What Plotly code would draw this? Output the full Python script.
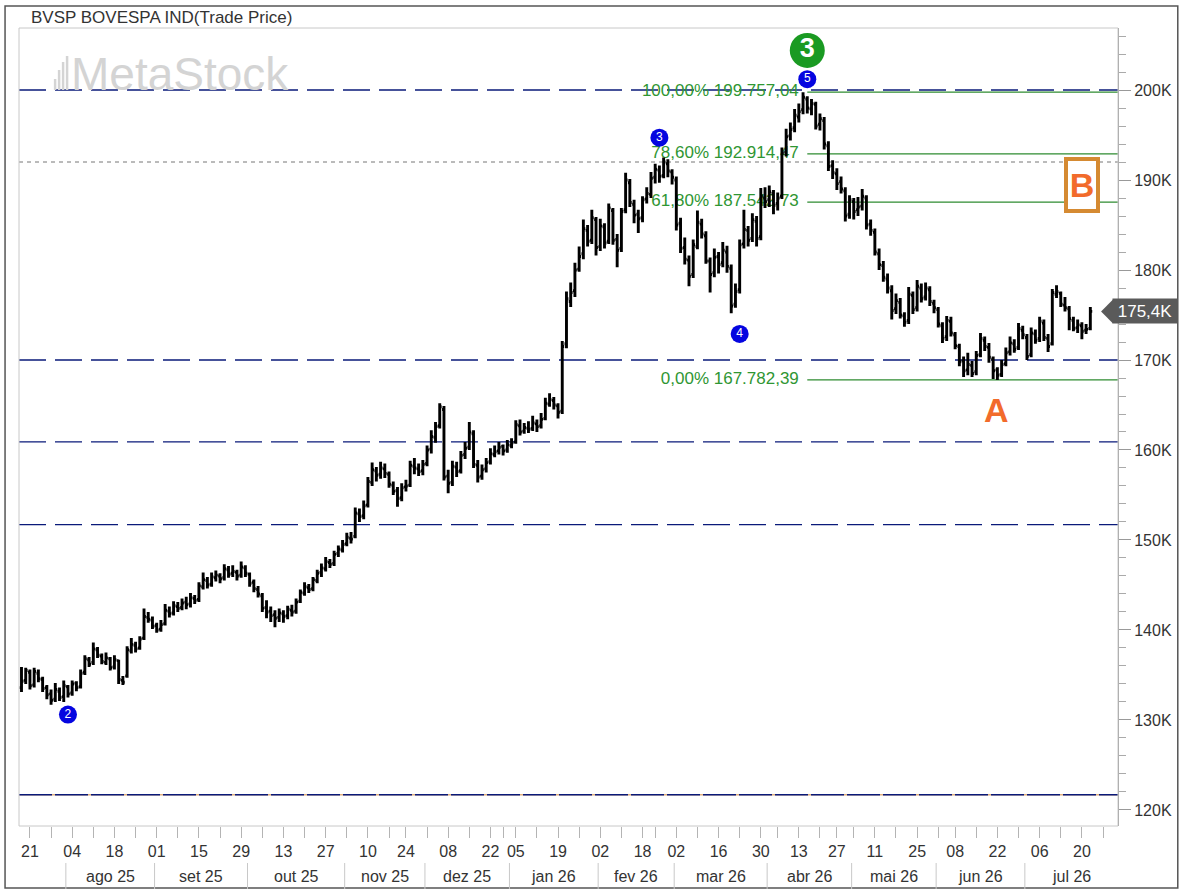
import pandas as pd
import plotly.graph_objects as go

# daily bars of the BVSP index, in thousands of points, from 17 Jul 2025
open_k = [
    133.6, 134.4, 135.3, 133.9, 135.2, 134.5, 133.6, 132.9, 132.3, 133.2,
    132.6, 133.7, 133.0, 134.1, 133.7, 135.3, 136.7, 136.4, 137.8, 137.1,
    136.4, 136.8, 135.9, 136.6, 134.4, 134.9, 137.7, 138.3, 138.0,
    139.1, 141.4, 141.1, 140.5, 140.1, 140.7, 142.1, 141.9, 142.6, 142.5,
    143.1, 142.9, 143.5, 143.4, 144.8, 145.5, 145.1, 145.8, 146.0, 145.8,
    146.7, 146.3, 146.4, 146.1, 146.9, 146.2, 145.3, 144.5, 143.8, 142.5,
    142.1, 141.7, 141.4, 141.8, 141.6, 142.2, 142.1, 143.2, 144.1, 144.7,
    144.6, 145.5, 146.4, 146.8, 147.5, 147.4, 148.5, 148.9, 149.6, 150.2,
    150.4, 152.9, 152.7, 153.9, 156.4, 157.7, 157.3, 157.9, 157.3,
    156.1, 155.5, 154.7, 155.9, 156.1, 158.2, 157.9, 157.7, 158.5, 160.1,
    161.4, 162.7, 164.5, 157.1, 156.4, 158.1, 157.7, 159.5, 160.3, 161.8,
    158.3, 157.1, 157.9, 158.7, 159.5, 159.9, 160.4, 160.0, 160.5, 160.9,
    162.7, 162.1, 162.4, 162.4, 162.9, 162.7, 163.5, 165.1, 165.5, 164.9,
    164.3, 171.8, 176.5, 177.7, 180.1, 181.8, 184.4, 183.3, 185.6, 182.6,
    184.8, 183.2, 186.6, 183.4, 182.4, 186.7, 189.7, 187.3, 186.2, 185.8,
    187.9, 188.4, 190.3, 191.1, 190.5, 191.8, 190.9, 190.0, 185.2, 182.5,
    181.1, 179.5, 182.6, 185.1, 183.8, 181.0, 179.7, 181.5, 180.8,
    182.0, 180.2, 176.2, 177.8, 182.9, 184.4, 183.5, 185.4, 183.7, 188.0,
    187.8, 188.5, 187.4, 188.2, 193.1, 194.9, 195.8, 197.0, 197.8, 199.0,
    197.9, 198.4, 196.2, 196.6, 193.8, 191.6, 190.7, 189.8, 188.8, 186.2,
    187.6, 186.7, 187.1, 188.0, 185.1, 184.2, 181.8, 180.5, 179.0, 177.7,
    175.7, 176.4, 174.9, 174.4, 177.2, 175.8, 178.0, 177.0, 177.8, 176.3,
    175.6, 173.8, 172.6, 174.3, 172.8, 171.5, 169.9, 168.9, 169.4, 168.7,
    170.6, 172.2, 171.4, 170.1, 168.9, 168.4, 169.6, 170.9, 171.8, 171.4,
    173.3, 172.5, 170.6, 172.9, 172.4, 174.1, 172.4, 171.8, 177.3,
    177.4, 176.1, 175.7, 174.4, 173.6, 173.8, 173.3, 173.5,
]
high_k = [
    135.9, 135.8, 135.6, 135.8, 135.6, 134.8, 133.9, 133.4, 134.1, 133.6,
    134.4, 133.9, 134.4, 134.3, 135.6, 137.2, 137.0, 138.6, 138.1, 137.4,
    137.5, 137.0, 137.2, 136.7, 134.9, 138.2, 139.1, 138.7, 139.3,
    142.4, 142.0, 141.5, 140.8, 141.1, 142.9, 142.6, 143.2, 143.1, 143.5,
    143.7, 144.1, 143.9, 145.3, 146.4, 145.9, 146.4, 146.6, 146.3, 147.3,
    147.1, 147.2, 146.7, 147.6, 147.2, 146.4, 145.6, 144.9, 144.1, 143.3,
    142.6, 142.2, 142.4, 142.2, 142.7, 142.8, 143.5, 144.5, 145.3, 145.1,
    145.9, 146.7, 147.4, 148.1, 147.9, 148.8, 149.4, 150.0, 150.8, 150.9,
    153.6, 153.5, 154.4, 157.0, 158.6, 158.1, 158.7, 158.5, 157.6,
    156.5, 155.9, 156.3, 156.7, 158.8, 159.1, 158.5, 158.9, 160.5, 162.2,
    163.1, 165.2, 164.9, 157.8, 158.8, 158.7, 159.9, 160.9, 163.1, 162.2,
    158.9, 158.4, 159.1, 160.2, 160.5, 160.9, 160.6, 161.1, 161.3, 163.3,
    163.4, 163.0, 163.2, 163.8, 163.4, 164.1, 165.8, 166.3, 165.9, 165.2,
    172.1, 177.6, 178.6, 180.8, 182.6, 185.6, 185.0, 186.7, 185.9, 185.7,
    185.2, 187.4, 186.9, 184.0, 186.9, 190.8, 190.1, 187.8, 186.7, 188.2,
    189.2, 190.9, 191.8, 191.6, 192.5, 192.3, 191.2, 190.4, 185.8, 183.6,
    181.6, 183.4, 186.6, 185.7, 184.3, 181.4, 182.4, 182.0, 183.1,
    182.7, 180.6, 178.5, 183.4, 186.7, 184.9, 186.3, 186.0, 189.1, 189.2,
    189.4, 188.9, 188.6, 193.6, 195.7, 196.4, 197.9, 198.5, 199.76, 199.3,
    199.0, 198.7, 197.4, 197.0, 194.3, 192.2, 191.3, 190.4, 189.2, 188.3,
    188.0, 188.1, 189.0, 188.3, 185.6, 184.6, 182.4, 181.0, 179.6, 178.3,
    177.4, 176.9, 175.3, 178.1, 177.6, 178.9, 178.5, 178.6, 178.2, 176.7,
    175.9, 174.2, 174.9, 174.8, 173.1, 171.8, 170.4, 170.8, 169.9, 171.0,
    173.0, 172.6, 171.9, 170.4, 169.2, 170.0, 171.4, 172.6, 172.3, 174.1,
    173.8, 172.9, 173.6, 173.4, 174.8, 174.5, 172.9, 177.9, 178.3,
    177.6, 177.0, 176.0, 174.8, 174.5, 174.2, 174.0, 175.9,
]
low_k = [
    133.1, 134.0, 133.4, 133.6, 134.2, 133.1, 132.3, 131.7, 132.0, 132.1,
    132.0, 132.5, 132.7, 133.2, 133.5, 135.0, 135.9, 136.1, 136.9, 136.2,
    136.1, 135.5, 135.6, 134.0, 133.9, 134.7, 137.4, 137.5, 137.8,
    138.9, 140.8, 140.1, 139.7, 139.8, 140.5, 141.4, 141.6, 142.0, 142.2,
    142.3, 142.5, 142.9, 143.1, 144.5, 144.6, 144.8, 145.4, 145.2, 145.5,
    145.8, 145.9, 145.5, 145.8, 145.9, 144.8, 144.2, 143.6, 142.0, 141.3,
    140.9, 140.3, 140.9, 140.8, 141.2, 141.5, 141.8, 143.0, 143.8, 144.1,
    144.3, 145.2, 145.9, 146.5, 146.9, 147.1, 148.1, 148.6, 149.3, 149.6,
    150.2, 152.0, 152.3, 153.6, 156.0, 156.5, 156.8, 156.9, 155.8,
    155.0, 153.7, 154.3, 155.4, 155.9, 157.3, 157.1, 157.2, 158.2, 159.6,
    160.8, 162.4, 156.6, 155.2, 156.0, 157.0, 157.4, 159.0, 160.0, 158.0,
    156.4, 156.7, 157.5, 158.4, 159.2, 159.5, 159.4, 159.7, 160.2, 160.7,
    161.6, 161.8, 161.9, 162.1, 162.0, 162.4, 163.3, 164.8, 164.5, 163.5,
    164.0, 171.3, 175.9, 177.0, 179.8, 181.2, 182.6, 182.9, 181.6, 182.1,
    182.4, 182.9, 182.8, 180.3, 182.0, 186.3, 187.0, 185.2, 184.1, 185.3,
    187.4, 188.0, 189.6, 189.7, 190.2, 190.3, 189.5, 184.4, 181.9, 180.6,
    178.2, 179.1, 182.3, 183.5, 180.7, 177.5, 179.2, 179.6, 180.3,
    179.7, 175.2, 175.8, 177.4, 182.4, 182.6, 183.1, 182.6, 183.3, 186.9,
    187.0, 186.2, 186.6, 187.9, 192.6, 194.4, 195.3, 196.4, 197.3, 197.4,
    197.2, 195.6, 195.5, 193.4, 191.0, 190.1, 188.9, 188.5, 185.4, 185.7,
    185.6, 186.0, 186.6, 184.5, 183.8, 181.6, 180.0, 178.7, 177.4, 174.5,
    175.1, 174.6, 173.7, 174.0, 175.1, 175.4, 176.4, 176.6, 176.0, 175.2,
    173.6, 171.9, 172.1, 172.6, 171.2, 169.3, 168.1, 168.3, 168.1, 168.3,
    170.3, 171.0, 169.7, 167.9, 167.78, 168.1, 169.3, 170.5, 170.8, 171.1,
    172.3, 170.0, 170.3, 171.8, 172.0, 172.1, 170.9, 171.6, 176.9,
    175.9, 175.4, 173.3, 173.2, 173.0, 172.3, 172.9, 173.3,
]
close_k = [
    134.3, 135.5, 133.8, 135.4, 134.6, 133.5, 132.8, 132.2, 133.4, 132.5,
    133.8, 132.9, 134.0, 133.6, 135.2, 136.8, 136.2, 137.9, 137.2, 136.5,
    136.9, 135.8, 136.7, 134.5, 134.2, 137.8, 138.4, 137.9, 139.0,
    141.5, 141.2, 140.4, 140.0, 140.6, 142.2, 141.8, 142.7, 142.4, 143.0,
    142.8, 143.6, 143.3, 144.9, 145.6, 145.0, 145.9, 146.1, 145.7, 146.8,
    146.2, 146.5, 146.0, 147.0, 146.3, 145.2, 144.6, 144.0, 142.4, 142.0,
    141.6, 141.3, 141.9, 141.5, 142.3, 142.0, 143.1, 144.2, 144.8, 144.5,
    145.6, 146.3, 146.9, 147.6, 147.3, 148.4, 149.0, 149.5, 150.3, 150.1,
    153.0, 152.6, 153.8, 156.5, 157.8, 157.2, 158.0, 157.4, 156.2,
    155.4, 154.6, 155.8, 156.0, 158.3, 158.0, 157.6, 158.4, 160.0, 161.5,
    162.6, 164.8, 157.0, 156.3, 158.2, 157.6, 159.4, 160.2, 162.0, 158.4,
    157.0, 157.8, 158.6, 159.6, 159.8, 160.3, 159.9, 160.6, 160.8, 162.8,
    162.0, 162.5, 162.3, 163.0, 162.6, 163.4, 165.2, 165.6, 165.0, 164.2,
    171.5, 176.8, 177.5, 180.0, 181.5, 184.6, 183.2, 185.8, 182.5, 184.9,
    183.0, 186.9, 183.3, 182.2, 186.5, 190.0, 187.5, 186.1, 185.7, 187.8,
    188.5, 190.2, 191.2, 190.4, 192.0, 191.0, 190.3, 185.0, 182.4, 181.2,
    179.3, 182.8, 185.3, 184.0, 181.0, 179.5, 181.4, 180.6, 182.2,
    180.4, 176.0, 177.6, 182.8, 184.5, 183.3, 185.6, 183.5, 188.2, 187.6,
    188.7, 187.2, 188.0, 193.0, 194.8, 195.6, 197.2, 197.6, 199.2, 198.0,
    198.5, 196.0, 196.8, 194.0, 191.5, 190.8, 189.6, 189.0, 186.0, 187.8,
    186.5, 187.0, 188.2, 185.0, 184.4, 182.0, 180.6, 179.2, 178.0, 175.5,
    176.6, 175.0, 174.2, 177.3, 175.6, 178.2, 176.8, 178.0, 176.5, 175.8,
    174.0, 172.4, 174.4, 173.0, 171.6, 169.8, 168.8, 169.5, 168.5, 170.5,
    172.4, 171.5, 170.3, 168.8, 168.3, 169.5, 170.8, 171.9, 171.2, 173.5,
    172.8, 170.4, 173.0, 172.2, 174.3, 172.5, 171.5, 177.5, 177.6,
    176.2, 175.8, 174.6, 173.5, 173.9, 173.2, 173.4, 175.4,
]

# B3 holidays in the period
holidays = ["2025-11-20", "2025-12-24", "2025-12-25", "2025-12-31", "2026-01-01",
            "2026-02-16", "2026-02-17", "2026-04-03", "2026-04-21", "2026-05-01",
            "2026-06-04"]
months_pt = ["jan", "fev", "mar", "abr", "mai", "jun",
             "jul", "ago", "set", "out", "nov", "dez"]

# fibonacci retracement (from the labels)
fib_low = 167782.394
fib_high = 199757.044
fib_ratios = [1.0, 0.786, 0.618, 0.0]

# horizontal levels drawn on the chart (K)
navy_levels = [200.0, 170.0, 160.9, 151.7]
base_level = 121.7
grey_level = 192.0

# elliott wave labels
wave_text = ["2", "3", "4", "5"]
wave_x = [11, 151, 170, 186]
wave_y = [130.6, 194.7, 172.9, 201.2]
degree_text = "3"
degree_x = 186
degree_y = 204.4
a_x, a_y = 230.8, 164.4
b_x, b_y = 251.1, 189.4

x_lo, x_hi = -0.59, 259.55
y_lo, y_hi = 118.22, 206.89

cal = pd.bdate_range("2025-07-17", "2026-08-14", freq="C", holidays=holidays)
pos = pd.Series(range(len(cal)), index=cal)
idx = list(range(len(close_k)))

sel = pos[pos.index >= "2025-07-21"]
week_first = sel.groupby(sel.index.to_period("W")).first()
week_first = [int(v) for v in week_first if v <= x_hi]
major = week_first[::2]
major_text = [cal[i].strftime("%d") for i in major]

month_first = pos.groupby(pos.index.to_period("M")).first()
month_start = [int(v) for v in month_first]
month_per = list(month_first.index)


def xpaper(v):
    return (v - x_lo) / (x_hi - x_lo)


def ypaper(v):
    return (v - y_lo) / (y_hi - y_lo)


def px(x):
    return (x - 19) / 1103


def py(y):
    return (826 - y) / 798


def br(v, d):
    s = f"{v:,.{d}f}"
    return s.replace(",", "#").replace(".", ",").replace("#", ".")


peak = high_k.index(max(high_k))
FONT = "Liberation Sans, Arial, sans-serif"
GREEN = "#2f9633"
NAVY = "#0a1a7a"

fig = go.Figure()

fib_y = [(fib_low + r * (fib_high - fib_low)) / 1000 for r in fib_ratios]
fib_text = [br(r * 100, 2) + "% " + br(fib_low + r * (fib_high - fib_low), 2)
            for r in fib_ratios]
fig.add_trace(go.Scatter(
    x=[peak - 1] * len(fib_y), y=fib_y, mode="text", text=fib_text,
    textposition="middle left", textfont=dict(family=FONT, size=17, color=GREEN),
    hoverinfo="skip", showlegend=False))

fig.add_trace(go.Scatter(
    x=wave_x, y=wave_y, mode="markers+text", text=wave_text,
    marker=dict(size=18, color="#0505e0", line=dict(width=0)),
    textfont=dict(family=FONT, size=12, color="white"),
    textposition="middle center", hoverinfo="skip", showlegend=False))

fig.add_trace(go.Scatter(
    x=[degree_x], y=[degree_y], mode="markers+text", text=["<b>" + degree_text + "</b>"],
    marker=dict(size=35, color="#1a9a22"),
    textfont=dict(family=FONT, size=27, color="white"),
    textposition="middle center", hoverinfo="skip", showlegend=False))

fig.add_trace(go.Ohlc(
    x=idx, open=open_k, high=high_k, low=low_k, close=close_k,
    xaxis="x2", yaxis="y2", tickwidth=0.45,
    increasing=dict(line=dict(color="black", width=2.9)),
    decreasing=dict(line=dict(color="black", width=2.9)),
    hoverinfo="skip", showlegend=False))

shapes = []
# level lines
shapes.append(dict(type="line", xref="x", yref="y", x0=x_lo, x1=x_hi,
                   y0=base_level, y1=base_level, layer="below",
                   line=dict(color="#e0b080", width=1.5)))
shapes.append(dict(type="line", xref="x", yref="y", x0=x_lo, x1=x_hi,
                   y0=base_level, y1=base_level, layer="below",
                   line=dict(color=NAVY, width=1.4, dash="33px,3px")))
shapes.append(dict(type="line", xref="x", yref="y", x0=x_lo, x1=x_hi,
                   y0=grey_level, y1=grey_level, layer="below",
                   line=dict(color="#777777", width=1, dash="4px,4px")))
for fy in fib_y:
    shapes.append(dict(type="line", xref="x", yref="y", x0=peak + 1, x1=x_hi,
                       y0=fy, y1=fy, layer="below",
                       line=dict(color="#2e8b30", width=1.2)))
for lv in navy_levels:
    shapes.append(dict(type="line", xref="x", yref="y", x0=x_lo, x1=x_hi,
                       y0=lv, y1=lv, layer="below",
                       line=dict(color=NAVY, width=1.3, dash="27px,9px")))

# plot frame and outer frame
shapes.append(dict(type="rect", xref="paper", yref="paper", x0=0, x1=1, y0=0, y1=1,
                   line=dict(color="#c8c8c8", width=1)))
shapes.append(dict(type="rect", xref="paper", yref="paper",
                   x0=px(5), x1=px(1182), y0=py(888), y1=py(6),
                   line=dict(color="#555555", width=1.5)))

# month separators in the second label row
annotations = []
for k in range(1, len(month_start)):
    start = month_start[k] - 0.5
    if start > x_hi:
        break
    shapes.append(dict(type="line", xref="paper", yref="paper",
                       x0=xpaper(start), x1=xpaper(start), y0=py(863), y1=py(889),
                       line=dict(color="#c8c8c8", width=1)))
    end = month_start[k + 1] - 0.5 if k + 1 < len(month_start) else x_hi
    end = min(end, x_hi)
    m = month_per[k]
    annotations.append(dict(x=(start + end) / 2, y=py(877), xref="x", yref="paper",
                            yanchor="middle",
                            text=f"{months_pt[m.month - 1]} {m.year % 100:02d}",
                            showarrow=False, font=dict(family=FONT, size=16, color="#333")))

# watermark icon
for bx, top in [(54, 79), (58, 70), (62, 62), (66, 56)]:
    shapes.append(dict(type="rect", xref="paper", yref="paper",
                       x0=px(bx), x1=px(bx + 2.5), y0=py(90), y1=py(top),
                       fillcolor="#d4d4d4", line=dict(width=0)))

# last price tag
last = close_k[-1]
yp = ypaper(last)
h = 12 / 798
shapes.append(dict(type="path", xref="paper", yref="paper",
                   path=f"M {px(1105)},{yp} L {px(1117)},{yp + h} L {px(1117)},{yp - h} Z",
                   fillcolor="#5a5a5a", line=dict(width=0)))
annotations.append(dict(x=px(1116), y=last, xref="paper", yref="y", xanchor="left",
                        yanchor="middle",
                        text=br(last, 1) + "K", showarrow=False, bgcolor="#5a5a5a",
                        width=60, height=20, borderpad=2,
                        font=dict(family=FONT, size=17, color="white")))

annotations.append(dict(x=px(29), y=py(17), xref="paper", yref="paper", xanchor="left",
                        yanchor="middle",
                        text="BVSP BOVESPA IND(Trade Price)", showarrow=False,
                        font=dict(family=FONT, size=17, color="#333")))
annotations.append(dict(x=px(69), y=py(74), xref="paper", yref="paper", xanchor="left",
                        yanchor="middle",
                        text="MetaStock", showarrow=False,
                        font=dict(family=FONT, size=46, color="#d4d4d4")))
annotations.append(dict(x=a_x, y=a_y, xref="x", yref="y", text="<b>A</b>",
                        showarrow=False, font=dict(family=FONT, size=34, color="#f26b2b")))
annotations.append(dict(x=b_x, y=b_y, xref="x", yref="y", text="<b>B</b>",
                        showarrow=False, width=28, height=48, borderpad=0,
                        bordercolor="#d58a32", borderwidth=4, bgcolor="white",
                        font=dict(family=FONT, size=34, color="#f26b2b")))

ytick = list(range(120, 201, 10))
fig.update_layout(
    width=1184, height=891,
    margin=dict(l=19, r=62, t=28, b=65),
    paper_bgcolor="white", plot_bgcolor="white", showlegend=False,
    font=dict(family=FONT, size=16, color="#333"),
    xaxis=dict(range=[x_lo, x_hi], showgrid=False, zeroline=False, showline=False,
               tickmode="array", tickvals=major, ticktext=major_text,
               ticks="outside", ticklen=11, tickcolor="#b4b4b4",
               tickfont=dict(family=FONT, size=16, color="#333"),
               minor=dict(tickmode="array", tickvals=week_first, ticks="outside",
                          ticklen=11, tickcolor="#b4b4b4"),
               rangeslider=dict(visible=False)),
    xaxis2=dict(overlaying="x", range=[x_lo, x_hi], showgrid=False, zeroline=False,
                showticklabels=False, ticks="", showline=False,
                rangeslider=dict(visible=False)),
    yaxis=dict(side="right", range=[y_lo, y_hi], showgrid=False, zeroline=False,
               tickmode="array", tickvals=ytick, ticktext=[f"{v}K" for v in ytick],
               ticks="outside", ticklen=12, tickcolor="#999999",
               showline=True, linecolor="#999999", linewidth=1,
               tickfont=dict(family=FONT, size=16, color="#333"),
               minor=dict(tickmode="array", tickvals=list(range(120, 207, 2)),
                          ticks="outside", ticklen=7, tickcolor="#aaaaaa")),
    yaxis2=dict(overlaying="y", range=[y_lo, y_hi], showgrid=False, zeroline=False,
                showticklabels=False, ticks="", showline=False),
    shapes=shapes, annotations=annotations,
)

# the page has a default body margin; drop it so the figure fills the window
fig.write_html("out.html", config={"displayModeBar": False},
               post_script="document.body.style.margin='0';")
